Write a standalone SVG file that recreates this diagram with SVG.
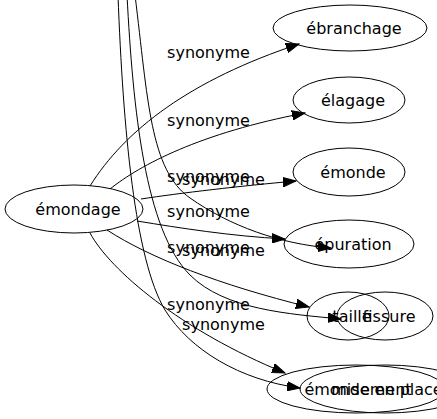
<svg xmlns="http://www.w3.org/2000/svg" width="437" height="419" viewBox="0 0 437 419">
<style>
  .n ellipse { fill: none; stroke: #000; stroke-width: 1; }
  text { font-family: "DejaVu Sans", Verdana, sans-serif; font-size: 16px; fill: #000; }
  .n text { text-anchor: middle; }
  .e path { fill: none; stroke: #000; stroke-width: 1; marker-end: url(#arr); }
  .lbl text { text-anchor: middle; }
</style>
<defs>
  <marker id="arr" markerUnits="userSpaceOnUse" markerWidth="14" markerHeight="10" refX="13" refY="5" orient="auto" viewBox="0 0 14 10">
    <path d="M0,0.3 L13,5 L0,9.7 z" fill="#000" stroke="#000" stroke-width="1"/>
  </marker>
</defs>
<rect width="437" height="419" fill="#fff"/>
<g id="edges" class="e">
  <path d="M90,186 C125,130 190,80 299,44"/>
  <path d="M110,189 C140,165 200,133 305,113"/>
  <path d="M141,199 C180,193 240,186 296,181"/>
  <path d="M137,221 C180,228 230,236 285,239"/>
  <path d="M135,-5 C148,100 150,170 190,198 C230,226 280,244 331,248"/>
  <path d="M107,230 C150,258 220,285 309,307"/>
  <path d="M90,233 C110,270 180,330 285,373"/>
  <path d="M127,-5 C133,110 145,230 190,275 C225,310 290,314 341,319"/>
  <path d="M118,-5 C123,130 135,260 165,310 C190,350 240,380 300,388"/>
</g>
<g id="labels" class="lbl">
  <text x="208.5" y="58">synonyme</text>
  <text x="208.5" y="126">synonyme</text>
  <text x="208.5" y="182">synonyme</text>
  <text x="223.5" y="185">synonyme</text>
  <text x="208.5" y="217">synonyme</text>
  <text x="208.5" y="253">synonyme</text>
  <text x="223.5" y="256">synonyme</text>
  <text x="208.5" y="310">synonyme</text>
  <text x="223.5" y="330">synonyme</text>
</g>
<g id="n-emondage" class="n"><ellipse cx="74" cy="209" rx="69" ry="24"/><text x="78" y="214.5">émondage</text></g>
<g id="n-ebranchage" class="n"><ellipse cx="350" cy="28" rx="77" ry="23"/><text x="354" y="33.5">ébranchage</text></g>
<g id="n-elagage" class="n"><ellipse cx="349" cy="100" rx="56" ry="23"/><text x="353" y="105.5">élagage</text></g>
<g id="n-emonde" class="n"><ellipse cx="349" cy="172" rx="56" ry="24"/><text x="353" y="177.5">émonde</text></g>
<g id="n-epuration" class="n"><ellipse cx="349" cy="244" rx="65" ry="24"/><text x="353" y="249.5">épuration</text></g>
<g id="n-taille" class="n"><ellipse cx="348" cy="316" rx="41" ry="24"/><text x="352" y="321.5">taille</text></g>
<g id="n-fissure" class="n"><ellipse cx="385" cy="316" rx="48" ry="24"/><text x="389" y="321.5">fissure</text></g>
<g id="n-emondement" class="n"><ellipse cx="356" cy="389" rx="89" ry="24"/><text x="358" y="394.5">émondement</text></g>
<g id="n-mise-en-place" class="n"><ellipse cx="385" cy="389" rx="85" ry="24"/><text x="387" y="394.5">mise en place</text></g>
</svg>
